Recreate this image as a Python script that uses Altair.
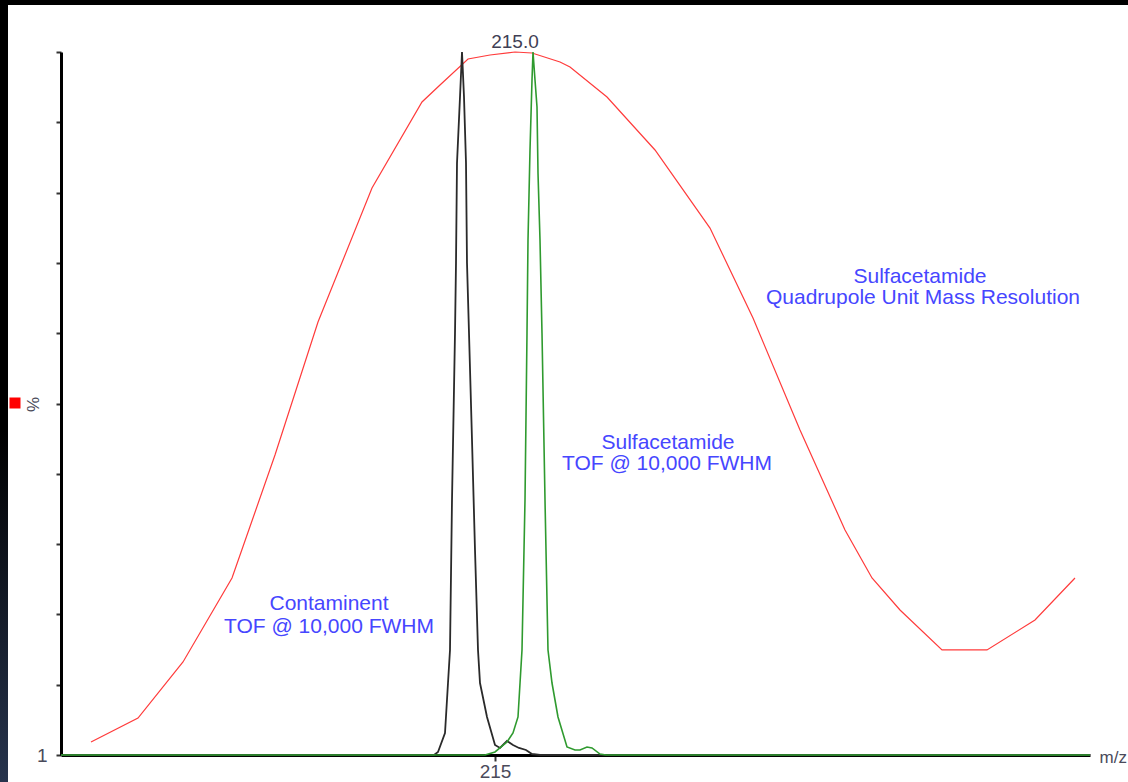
import altair as alt
import pandas as pd

# ---- data (m/z, relative intensity %) ----
quad_mz = [214.192, 214.286, 214.376, 214.474, 214.560, 214.646, 214.754, 214.854,
           214.890, 214.946, 214.990, 215.040, 215.074, 215.130, 215.150, 215.224,
           215.320, 215.430, 215.516, 215.610, 215.700, 215.754, 215.810, 215.894,
           215.984, 216.080, 216.160]
quad_int = [1.85, 5.26, 13.23, 25.18, 42.67, 61.59, 80.65, 92.89,
            95.31, 99.0, 99.57, 100.0, 99.86, 98.58, 97.87, 93.60,
            86.06, 74.96, 62.16, 46.23, 32.01, 25.18, 20.63, 14.94,
            14.94, 19.20, 25.18]

cont_mz = [214.132, 214.878, 214.886, 214.900, 214.906, 214.910, 214.914, 214.920,
           214.922, 214.924, 214.930, 214.934, 214.938, 214.942, 214.944, 214.948,
           214.954, 214.960, 214.966, 214.970, 214.984, 215.000, 215.010, 215.024,
           215.036, 215.048, 215.062, 215.074, 215.090, 216.190]
cont_int = [0, 0, 0.43, 3.13, 10.24, 14.94, 36.27, 60.03,
            69.99, 84.21, 93.60, 100.0, 93.60, 84.21, 69.99, 60.03,
            44.81, 29.16, 14.94, 10.24, 5.41, 1.42, 1.00, 1.99,
            1.42, 1.00, 0.71, 0.14, 0, 0]

sulf_mz = [214.132, 214.980, 215.000, 215.024, 215.036, 215.046, 215.054, 215.060,
           215.064, 215.066, 215.070, 215.074, 215.076, 215.080, 215.084, 215.086,
           215.090, 215.094, 215.100, 215.106, 215.114, 215.126, 215.144, 215.160,
           215.170, 215.184, 215.194, 215.210, 215.222, 216.190]
sulf_int = [0, 0, 0.43, 1.85, 3.13, 5.41, 14.94, 36.27,
            60.03, 73.26, 86.06, 96.02, 100.0, 96.02, 92.18, 82.79,
            73.26, 60.03, 36.27, 14.94, 10.24, 5.41, 1.14, 0.71,
            0.71, 1.14, 1.00, 0.14, 0, 0]

label_text = ["Sulfacetamide", "Quadrupole Unit Mass Resolution",
              "Sulfacetamide", "TOF @ 10,000 FWHM",
              "Contaminent", "TOF @ 10,000 FWHM"]
label_mz = [215.850, 215.856, 215.346, 215.344, 214.668, 214.668]
label_int = [68.0, 65.0, 44.38, 41.39, 21.48, 18.21]

peak_label = ["215.0"]
peak_mz = [215.04]
peak_int = [101.42]

x_ticks = [215]
x_domain = [214.132, 216.19]
y_domain = [0, 100]
y_ticks = [0, 10, 20, 30, 40, 50, 60, 70, 80, 90, 100]

W, H = 1029, 703

xs = alt.Scale(domain=x_domain, nice=False, zero=False)
ys = alt.Scale(domain=y_domain, nice=False)

x_axis = alt.Axis(values=x_ticks, title="m/z", grid=False,
                  domainColor="black", domainWidth=3,
                  tickColor="#333333", tickWidth=2, tickSize=6,
                  labelFont="Liberation Sans", labelFontSize=19, labelColor="#4a4a5a",
                  labelPadding=1, labelExpr="'215'",
                  titleFont="Liberation Sans", titleFontSize=17, titleFontWeight="normal",
                  titleColor="#4a4a5a", titleX=1038, titleY=2, titleAlign="left",
                  titleBaseline="middle", titleAnchor="start")
y_axis = alt.Axis(values=y_ticks, title="%", grid=False,
                  domainColor="black", domainWidth=3,
                  tickColor="#333333", tickWidth=2, tickSize=5,
                  labelFont="Liberation Sans", labelFontSize=19, labelColor="#4a4a5a",
                  labelPadding=9, labelExpr="datum.value == 0 ? '1' : ''",
                  labelBaseline="middle",
                  titleFont="Liberation Sans", titleFontSize=17, titleFontWeight="normal",
                  titleColor="#4a4a5a", titleX=-28, titleY=352, titleAngle=270,
                  titleAlign="center", titleBaseline="middle")

df_quad = pd.DataFrame({"mz": quad_mz, "i": quad_int})
df_cont = pd.DataFrame({"mz": cont_mz, "i": cont_int})
df_sulf = pd.DataFrame({"mz": sulf_mz, "i": sulf_int})
df_lab = pd.DataFrame({"mz": label_mz, "i": label_int, "t": label_text})
df_peak = pd.DataFrame({"mz": peak_mz, "i": peak_int, "t": peak_label})

one = alt.Data(values=[{}])

top_band = alt.Chart(one).mark_rect(color="black").encode(
    x=alt.value(-61), x2=alt.value(1067), y=alt.value(-52), y2=alt.value(-47))
left_band = alt.Chart(one).mark_rect(
    fill=alt.LinearGradient(gradient="linear", x1=0, y1=0, x2=0, y2=1,
                            stops=[alt.GradientStop(color="black", offset=0),
                                   alt.GradientStop(color="black", offset=0.55),
                                   alt.GradientStop(color="#27344d", offset=1)])
).encode(x=alt.value(-61), x2=alt.value(-53), y=alt.value(-52), y2=alt.value(730))

marker = alt.Chart(one).mark_square(color="#ff0000", size=121, opacity=1).encode(
    x=alt.value(-46), y=alt.value(351))

quad = alt.Chart(df_quad).mark_line(color="#ff3b3b", strokeWidth=1.2).encode(
    x=alt.X("mz:Q", scale=xs, axis=x_axis),
    y=alt.Y("i:Q", scale=ys, axis=y_axis))
cont = alt.Chart(df_cont).mark_line(color="#2a2a2a", strokeWidth=1.8).encode(
    x=alt.X("mz:Q", scale=xs), y=alt.Y("i:Q", scale=ys))
sulf = alt.Chart(df_sulf).mark_line(color="#2f9a2f", strokeWidth=1.6).encode(
    x=alt.X("mz:Q", scale=xs), y=alt.Y("i:Q", scale=ys))

labels = alt.Chart(df_lab).mark_text(font="Liberation Sans", fontSize=21,
                                     color="#4646ff", align="center",
                                     baseline="middle").encode(
    x=alt.X("mz:Q", scale=xs), y=alt.Y("i:Q", scale=ys), text="t:N")
peak = alt.Chart(df_peak).mark_text(font="Liberation Sans", fontSize=19,
                                    color="#3f3f55", align="center",
                                    baseline="middle").encode(
    x=alt.X("mz:Q", scale=xs), y=alt.Y("i:Q", scale=ys), text="t:N")

chart = alt.layer(top_band, left_band, marker, quad, cont, sulf, labels, peak).properties(
    width=W, height=H,
    padding={"left": 61, "top": 52, "right": 38, "bottom": 27},
    autosize=alt.AutoSizeParams(type="none"),
    background="white",
).configure_view(stroke=None)

chart.save("out.html", embed_options={"renderer": "svg", "actions": False})
